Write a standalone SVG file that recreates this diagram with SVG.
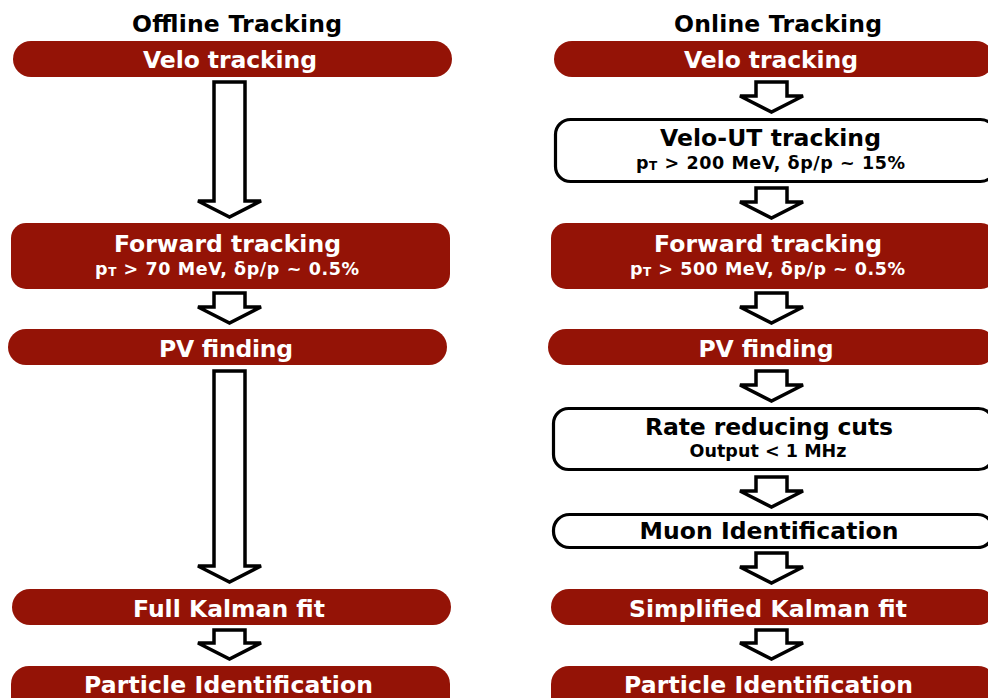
<svg xmlns="http://www.w3.org/2000/svg" width="988" height="698" viewBox="0 0 988 698">
<style>
text{font-family:"DejaVu Sans","Verdana",sans-serif;font-weight:bold;text-anchor:middle}
.t{font-size:23.5px;fill:#000}
.m{font-size:23.5px}
.s{font-size:17.5px}
.red rect{fill:#941306}
.red text{fill:#fff}
.wht rect{fill:#fff;stroke:#000;stroke-width:3.2}
.wht text{fill:#000}
.sub{font-size:12px}
#connectors path{fill:#fff;stroke:#000;stroke-width:3.5;stroke-linejoin:miter}
</style>
<rect width="988" height="698" fill="#fff"/>
<text class="t" x="237" y="32" textLength="210">Offline Tracking</text>
<text class="t" x="778" y="32" textLength="208">Online Tracking</text>

<g id="connectors">
<path d="M214,82H245V201H261L229.5,217L198,201H214Z"/>
<path d="M214,293H245V307H261L229.5,323L198,307H214Z"/>
<path d="M214,371H245V566H261L229.5,582L198,566H214Z"/>
<path d="M214,630H245V643H261L229.5,659L198,643H214Z"/>
<path d="M756,82H787V96H803L771.5,112L740,96H756Z"/>
<path d="M756,188H787V202H803L771.5,218L740,202H756Z"/>
<path d="M756,293H787V307H803L771.5,323L740,307H756Z"/>
<path d="M756,371H787V385H803L771.5,401L740,385H756Z"/>
<path d="M756,477H787V491H803L771.5,507L740,491H756Z"/>
<path d="M756,553H787V567H803L771.5,583L740,567H756Z"/>
<path d="M756,630H787V643H803L771.5,659L740,643H756Z"/>
</g>

<g id="off-velo" class="red"><rect x="13" y="41" width="439" height="36" rx="18"/><text class="m" x="230" y="67.5" textLength="174">Velo tracking</text></g>
<g id="off-forward" class="red"><rect x="11" y="223" width="439" height="66" rx="15"/><text class="m" x="227.5" y="251.5" textLength="227">Forward tracking</text><text class="s" x="227" y="274.5" textLength="264">p<tspan class="sub" dy="1">T</tspan><tspan dy="-1"> &gt; 70 MeV, δp/p ~ 0.5%</tspan></text></g>
<g id="off-pv" class="red"><rect x="8" y="329" width="439" height="36" rx="18"/><text class="m" x="226" y="356.5" textLength="134">PV finding</text></g>
<g id="off-kalman" class="red"><rect x="12" y="589" width="439" height="36" rx="18"/><text class="m" x="229" y="616.5" textLength="192">Full Kalman fit</text></g>
<g id="off-pid" class="red"><rect x="11" y="666" width="439" height="50" rx="18"/><text class="m" x="228.5" y="692.5" textLength="289">Particle Identification</text></g>

<g id="on-velo" class="red"><rect x="554" y="41" width="440" height="36" rx="18"/><text class="m" x="771" y="67.5" textLength="174">Velo tracking</text></g>
<g id="on-velout" class="wht"><rect x="555.5" y="119.5" width="440" height="62" rx="15"/><text class="m" x="770.5" y="146" textLength="221">Velo-UT tracking</text><text class="s" x="770.5" y="168.5" textLength="269">p<tspan class="sub" dy="1">T</tspan><tspan dy="-1"> &gt; 200 MeV, δp/p ~ 15%</tspan></text></g>
<g id="on-forward" class="red"><rect x="551" y="223" width="445" height="66" rx="15"/><text class="m" x="768" y="251.5" textLength="228">Forward tracking</text><text class="s" x="767.5" y="274.5" textLength="275">p<tspan class="sub" dy="1">T</tspan><tspan dy="-1"> &gt; 500 MeV, δp/p ~ 0.5%</tspan></text></g>
<g id="on-pv" class="red"><rect x="548" y="329" width="448" height="36" rx="18"/><text class="m" x="766" y="356.5" textLength="135">PV finding</text></g>
<g id="on-rate" class="wht"><rect x="553.5" y="408.5" width="440" height="61" rx="15"/><text class="m" x="769" y="434.5" textLength="248">Rate reducing cuts</text><text class="s" x="768" y="456.5" textLength="157">Output &lt; 1 MHz</text></g>
<g id="on-muon" class="wht"><rect x="553.5" y="514.5" width="440" height="33" rx="16"/><text class="m" x="769" y="538.5" textLength="259">Muon Identification</text></g>
<g id="on-kalman" class="red"><rect x="551" y="589" width="445" height="36" rx="18"/><text class="m" x="768" y="616.5" textLength="278">Simplified Kalman fit</text></g>
<g id="on-pid" class="red"><rect x="551" y="666" width="445" height="50" rx="18"/><text class="m" x="768.5" y="692.5" textLength="289">Particle Identification</text></g>
</svg>
